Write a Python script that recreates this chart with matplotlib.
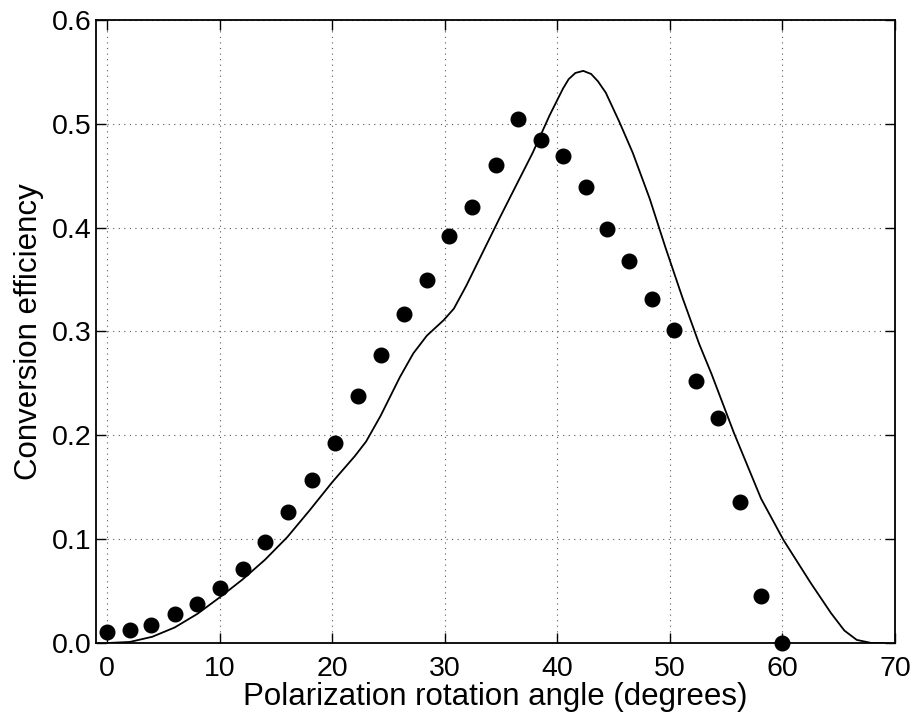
#!/usr/bin/env python3
"""Conversion efficiency vs polarization rotation angle: measured dots and model curve."""

import matplotlib
matplotlib.use("Agg")
import matplotlib.pyplot as plt

plt.rcParams["font.family"] = ["Liberation Sans", "DejaVu Sans"]

# measured points (degrees, efficiency)
meas_angle = [0.0, 2.0, 3.9, 6.0, 8.0, 10.0, 12.05, 14.05, 16.1, 18.15, 20.25,
              22.3, 24.35, 26.35, 28.4, 30.4, 32.4, 34.5, 36.5, 38.5, 40.5,
              42.5, 44.4, 46.4, 48.4, 50.4, 52.3, 54.3, 56.2, 58.1, 60.0]
meas_eff = [0.011, 0.0125, 0.017, 0.028, 0.038, 0.053, 0.071, 0.097, 0.126,
            0.157, 0.193, 0.238, 0.277, 0.317, 0.350, 0.392, 0.420, 0.460,
            0.505, 0.484, 0.469, 0.439, 0.399, 0.368, 0.331, 0.301, 0.252,
            0.217, 0.136, 0.045, 0.0]

# model curve
model_angle = [0.0, 2.0, 4.0, 6.0, 8.0, 10.0, 12.0, 14.0, 16.0, 18.0, 20.0,
               22.0, 23.0, 24.3, 26.0, 27.2, 28.4, 29.9, 30.8, 31.9, 33.4,
               34.9, 36.3, 37.8, 39.3, 40.5, 41.0, 41.6, 42.3, 43.0, 43.6,
               44.3, 45.5, 46.7, 48.2, 49.6, 51.1, 52.6, 53.7, 55.7, 58.1,
               60.1, 62.5, 64.3, 65.5, 66.6, 67.9, 69.0]
model_eff = [0.0, 0.001, 0.006, 0.015, 0.028, 0.044, 0.061, 0.080, 0.102,
             0.128, 0.155, 0.180, 0.194, 0.219, 0.256, 0.279, 0.296, 0.311,
             0.322, 0.344, 0.377, 0.410, 0.440, 0.472, 0.508, 0.534, 0.543,
             0.549, 0.551, 0.548, 0.541, 0.530, 0.502, 0.472, 0.428, 0.381,
             0.333, 0.288, 0.259, 0.202, 0.139, 0.099, 0.058, 0.029, 0.012,
             0.003, 0.0, 0.0]

x_ticks = [0, 10, 20, 30, 40, 50, 60, 70]
y_ticks = [0.0, 0.1, 0.2, 0.3, 0.4, 0.5, 0.6]

fig = plt.figure(figsize=(9.16, 7.18), dpi=100)
ax = fig.add_axes([96 / 916, 1 - 643 / 718, 799 / 916, 623 / 718])

ax.plot(model_angle, model_eff, color="black", linewidth=1.3, zorder=2)
ax.plot(meas_angle, meas_eff, "o", color="black", markersize=10.5,
        clip_on=False, zorder=3)

ax.set_xlim(-1, 70)
ax.set_ylim(0, 0.6)
ax.set_xticks(x_ticks)
ax.set_yticks(y_ticks)
ax.set_yticklabels([f"{v:.1f}" for v in y_ticks])
ax.grid(True, color="0.35", linestyle=(0, (1, 4)), linewidth=0.8)
ax.tick_params(direction="in", length=7, width=1.0, top=True, right=True,
               labelsize=20.5)
ax.tick_params(axis="x", pad=9)
ax.tick_params(axis="y", pad=3)
for sp in ax.spines.values():
    sp.set_linewidth(1.3)

ax.set_xlabel("Polarization rotation angle (degrees)", fontsize=22.5, labelpad=0)
ax.set_ylabel("Conversion efficiency", fontsize=22.5, labelpad=6)

fig.savefig("out.png", dpi=100)
